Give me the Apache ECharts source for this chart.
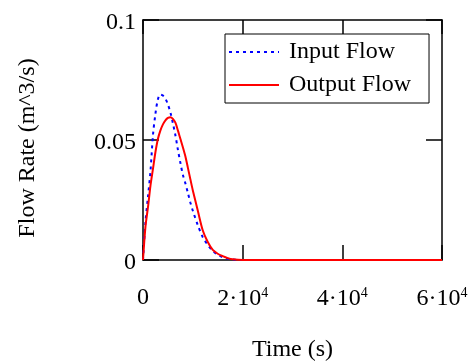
<!DOCTYPE html>
<html>
<head>
<meta charset="utf-8">
<script src="https://cdn.jsdelivr.net/npm/echarts@6/dist/echarts.min.js"></script>
<style>html,body{margin:0;padding:0;background:#fff;}#c{width:471px;height:361px;}</style>
</head>
<body>
<div id="c"></div>
<script>
var times = [0, 500, 1000, 1500, 2000, 2500, 3000, 3500, 4000, 4500, 5000, 5500, 6000, 6500, 7000, 7500, 8000, 8500, 9000, 9500, 10000, 11000, 12000, 13000, 14000, 15000, 16000, 17000, 18000, 20000, 25000, 30000, 40000, 50000, 60000];
var inputFlow = [0, 0.016, 0.0264, 0.037, 0.052, 0.061, 0.067, 0.069, 0.0685, 0.0672, 0.0648, 0.0615, 0.057, 0.052, 0.046, 0.0405, 0.0355, 0.032, 0.028, 0.024, 0.0205, 0.0145, 0.0095, 0.0063, 0.0038, 0.0022, 0.0012, 0.0005, 0.0002, 0, 0, 0, null, null, null];
var outputFlow = [0, 0.014, 0.022, 0.031, 0.038, 0.045, 0.0505, 0.054, 0.0565, 0.0582, 0.0592, 0.0595, 0.0588, 0.0572, 0.054, 0.0505, 0.047, 0.0432, 0.0385, 0.0337, 0.029, 0.0205, 0.0123, 0.0075, 0.0042, 0.0026, 0.0016, 0.0008, 0.0003, 0, 0, 0, 0, 0, 0];
var yTicks = [0, 0.05, 0.1];
var xTicks = [0, 20000, 40000, 60000];

var font = 'Liberation Serif';
var chart = echarts.init(document.getElementById('c'));
function pairs(vals) { return times.map(function (t, i) { return [t, vals[i]]; }); }
var axLine = { show: true, onZero: false, lineStyle: { color: '#000', width: 1.5 } };
var tick = function (len) { return { show: true, inside: true, length: len, lineStyle: { color: '#000', width: 1.5 } }; };
chart.setOption({
  animation: false,
  backgroundColor: '#fff',
  grid: { left: 143, right: 29, top: 20, bottom: 101, containLabel: false, outerBoundsMode: 'none' },
  legend: {
    orient: 'vertical', left: 225, top: 34,
    padding: [6, 18, 6, 3], itemGap: 9,
    itemWidth: 50, itemHeight: 14,
    backgroundColor: '#fff', borderColor: '#000', borderWidth: 1,
    itemStyle: { opacity: 0 },
    textStyle: { fontFamily: font, fontSize: 24, color: '#000', padding: [0, 0, 0, 5] },
    data: ['Input Flow', 'Output Flow']
  },
  xAxis: [{
    type: 'value', min: 0, max: 60000, interval: 20000, position: 'bottom',
    name: 'Time (s)', nameLocation: 'middle', nameGap: 78,
    nameTextStyle: { fontFamily: font, fontSize: 24, color: '#000' },
    axisLine: axLine, axisTick: tick(15), splitLine: { show: false },
    axisLabel: {
      margin: 26, color: '#000', fontFamily: font, fontSize: 24,
      formatter: function (v) { return v === 0 ? '0' : (v / 10000) + '·10{sup|4}'; },
      rich: { sup: { fontFamily: font, fontSize: 14, verticalAlign: 'top', padding: [0, 0, 12, 0] } }
    }
  }, {
    type: 'value', min: 0, max: 60000, interval: 20000, position: 'top',
    axisLine: axLine, axisTick: tick(14), axisLabel: { show: false }, splitLine: { show: false }
  }],
  yAxis: [{
    type: 'value', min: 0, max: 0.1, interval: 0.05, position: 'left',
    name: 'Flow Rate (m^3/s)', nameLocation: 'middle', nameGap: 103,
    nameTextStyle: { fontFamily: font, fontSize: 24, color: '#000', padding: [0, 16, 0, 0] },
    axisLine: axLine, axisTick: tick(16), splitLine: { show: false },
    axisLabel: {
      margin: 7, color: '#000', fontFamily: font, fontSize: 24,
      formatter: function (v) { return '{a|' + v + '}'; },
      rich: { a: { fontFamily: font, fontSize: 24, color: '#000', padding: [6, 0, 0, 0] } }
    }
  }, {
    type: 'value', min: 0, max: 0.1, interval: 0.05, position: 'right',
    axisLine: axLine, axisTick: tick(16), axisLabel: { show: false }, splitLine: { show: false }
  }],
  series: [{
    name: 'Input Flow', type: 'line', symbol: 'none', smooth: 0.3,
    data: pairs(inputFlow),
    lineStyle: { color: '#0000ff', width: 2, type: [3, 4] },
    itemStyle: { color: '#0000ff' }
  }, {
    name: 'Output Flow', type: 'line', symbol: 'none', smooth: 0.3,
    data: pairs(outputFlow),
    lineStyle: { color: '#ff0000', width: 2 },
    itemStyle: { color: '#ff0000' }
  }]
});
</script>
</body>
</html>
